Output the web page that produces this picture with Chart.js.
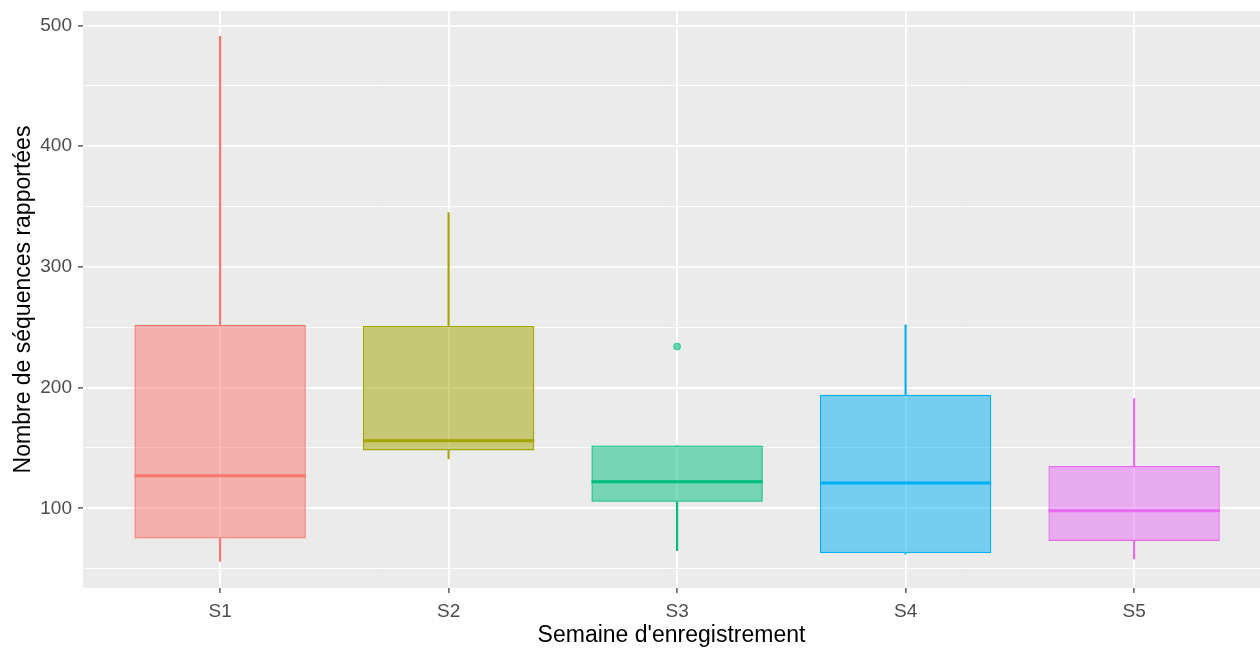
<!DOCTYPE html>
<html>
<head>
<meta charset="utf-8">
<script src="https://cdn.jsdelivr.net/npm/chart.js@4.4.1/dist/chart.umd.min.js"></script>
<style>
  html, body { margin: 0; padding: 0; background: #ffffff; }
  #wrap { width: 1260px; height: 648px; }
</style>
</head>
<body>
<div id="wrap"><canvas id="boxChart"></canvas></div>
<script>
// Données
const semaines = ["S1", "S2", "S3", "S4", "S5"];
const minimums = [56, 141, 65, 62, 58];
const quartile1 = [75, 148, 105.5, 63, 73];
const medianes = [127, 156, 122, 121, 98];
const quartile3 = [252, 251, 152, 194, 135];
const maximums = [491, 345, 152, 252, 191];
const outliersX = [3];
const outliersY = [234];
const yTicks = [50, 100, 150, 200, 250, 300, 350, 400, 450, 500];

const couleurs = ["248,118,109", "163,165,0", "0,191,125", "0,176,246", "231,107,243"];
const solid = couleurs.map(c => "rgb(" + c + ")");
const fill = couleurs.map(c => "rgba(" + c + ",0.5)");

const pos = semaines.map((s, i) => i + 1);

// fond gris du panneau (ggplot)
const panelBg = {
	id: "panelBg",
	beforeDraw(chart) {
		const { ctx, chartArea } = chart;
		ctx.save();
		ctx.fillStyle = "#EBEBEB";
		ctx.fillRect(chartArea.left, chartArea.top, chartArea.right - chartArea.left, chartArea.bottom - chartArea.top);
		ctx.restore();
	},
};

// trait épais de la médiane, posé sur la jonction des deux demi-boîtes
const medianLine = {
	id: "medianLine",
	afterDatasetsDraw(chart) {
		const ctx = chart.ctx;
		const meta = chart.getDatasetMeta(3);
		ctx.save();
		meta.data.forEach((bar, i) => {
			const y = chart.scales.y.getPixelForValue(medianes[i]);
			ctx.strokeStyle = solid[i];
			ctx.lineWidth = 3;
			ctx.beginPath();
			ctx.moveTo(bar.x - bar.width / 2, y);
			ctx.lineTo(bar.x + bar.width / 2, y);
			ctx.stroke();
		});
		ctx.restore();
	},
};

function range(lo, hi) {
	return pos.map((x, i) => ({ x: x, y: [lo[i], hi[i]] }));
}

const whiskerStyle = {
	type: "bar",
	backgroundColor: solid,
	borderWidth: 0,
	barThickness: 1.5,
	grouped: false,
};

const boxStyle = {
	type: "bar",
	backgroundColor: fill,
	borderColor: solid,
	borderWidth: 1.3,
	borderSkipped: false,
	categoryPercentage: 1,
	barPercentage: 0.75,
	grouped: false,
};

new Chart(document.getElementById("boxChart").getContext("2d"), {
	type: "bar",
	data: {
		datasets: [
			Object.assign({ label: "moustache bas", data: range(minimums, quartile1) }, whiskerStyle),
			Object.assign({ label: "moustache haut", data: range(quartile3, maximums) }, whiskerStyle),
			Object.assign({ label: "boite bas", data: range(quartile1, medianes) }, boxStyle),
			Object.assign({ label: "boite haut", data: range(medianes, quartile3) }, boxStyle),
			{
				type: "scatter",
				label: "valeurs extremes",
				data: outliersX.map((x, i) => ({ x: x, y: outliersY[i] })),
				backgroundColor: "rgba(0,191,125,0.6)",
				borderColor: "rgba(0,191,125,0.6)",
				pointRadius: 3.5,
				showLine: false,
			},
		],
	},
	options: {
		responsive: true,
		maintainAspectRatio: false,
		animation: false,
		layout: { autoPadding: false, padding: { top: 11, right: 0, left: 0, bottom: 0 } },
		plugins: {
			legend: { display: false },
			tooltip: { enabled: false },
		},
		scales: {
			x: {
				type: "linear",
				offset: false,
				min: 0.4,
				max: 5.551,
				afterBuildTicks: (scale) => { scale.ticks = pos.map(v => ({ value: v })); },
				afterFit: (scale) => {
					scale.height = 60;
					scale.paddingLeft = 0;
					scale.paddingRight = 0;
				},
				grid: {
					offset: false,
					color: "#ffffff",
					lineWidth: 1.8,
					tickColor: "#333333",
					tickLength: 5,
					tickWidth: 1.2,
				},
				border: { display: false },
				ticks: {
					padding: 7,
					color: "#4D4D4D",
					font: { family: "'Liberation Sans', Arial, sans-serif", size: 19 },
					maxRotation: 0,
					callback: (v) => semaines[v - 1],
				},
				title: {
					display: true,
					text: "Semaine d'enregistrement",
					color: "#000000",
					font: { family: "'Liberation Sans', Arial, sans-serif", size: 23, lineHeight: 1.1 },
					padding: { top: 0, bottom: 0 },
				},
			},
			y: {
				min: 34,
				max: 512,
				afterBuildTicks: (scale) => { scale.ticks = yTicks.map(v => ({ value: v })); },
				afterFit: (scale) => {
					scale.width = 83;
					scale.paddingTop = 0;
					scale.paddingBottom = 0;
				},
				grid: {
					color: "#ffffff",
					lineWidth: (c) => (c.tick && c.tick.value % 100 === 0 ? 1.8 : 0.9),
					tickColor: (c) => (c.tick && c.tick.value % 100 === 0 ? "#333333" : "rgba(0,0,0,0)"),
					tickLength: 5,
					tickWidth: 1.2,
				},
				border: { display: false },
				ticks: {
					padding: 6,
					color: "#4D4D4D",
					font: { family: "'Liberation Sans', Arial, sans-serif", size: 19 },
					callback: (v) => (v % 100 === 0 ? String(v) : ""),
				},
				title: {
					display: true,
					text: "Nombre de séquences rapportées",
					color: "#000000",
					font: { family: "'Liberation Sans', Arial, sans-serif", size: 23, lineHeight: 1.2 },
					padding: { top: 10, bottom: 0 },
				},
			},
		},
	},
	plugins: [panelBg, medianLine],
});
</script>
</body>
</html>
